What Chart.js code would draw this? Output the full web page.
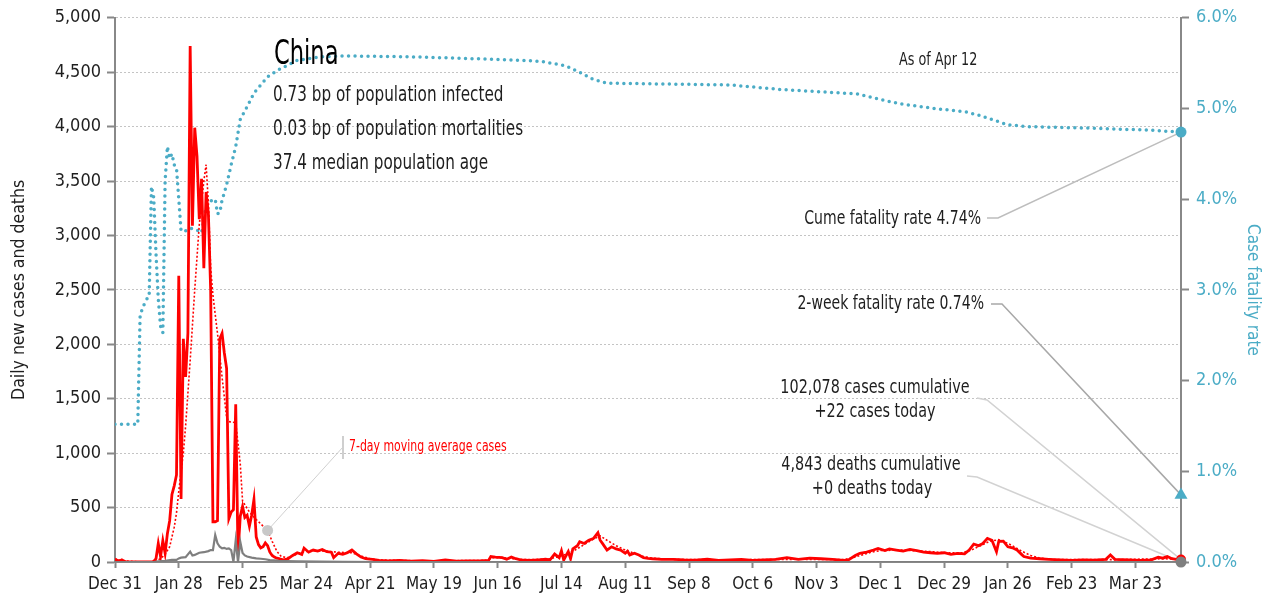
<!DOCTYPE html>
<html>
<head>
<meta charset="utf-8">
<script src="https://cdn.jsdelivr.net/npm/chart.js@4.4.0/dist/chart.umd.min.js"></script>
<style>
  html, body { margin: 0; padding: 0; background: #fff; }
  #wrap { width: 1271px; height: 604px; }
</style>
</head>
<body>
<div id="wrap"><canvas id="c" width="1271" height="604"></canvas></div>
<script>
// ------------------------------------------------------------
//  China – daily cases, deaths and case fatality rate
//  x = days since Dec 31 2019
// ------------------------------------------------------------

const X_TICKS = ['Dec 31', 'Jan 28', 'Feb 25', 'Mar 24', 'Apr 21', 'May 19', 'Jun 16', 'Jul 14',
                 'Aug 11', 'Sep 8', 'Oct 6', 'Nov 3', 'Dec 1', 'Dec 29', 'Jan 26', 'Feb 23', 'Mar 23'];
const LAST_DAY = 468;   // Apr 12 2021

// [day, new cases]
const dailyCases = [
  [0,27],[1,15],[2,10],[3,20],[4,8],[5,0],[8,0],[12,0],[16,0],[17,5],[18,30],[19,170],[20,50],
  [21,195],[22,80],[23,260],[24,380],[25,620],[26,700],[27,800],[28,2630],[29,580],[30,2050],
  [31,1700],[32,2100],[33,4740],[34,3090],[35,3990],[36,3730],[37,3150],[38,3520],[39,2700],
  [40,3400],[41,3200],[42,2500],[43,370],[44,370],[45,380],[46,2050],[47,2100],[48,1920],
  [49,1780],[50,400],[51,460],[52,480],[53,1450],[54,80],[55,420],[56,510],[57,410],[58,430],
  [59,330],[60,430],[61,575],[62,230],[63,160],[64,130],[65,140],[66,175],[67,150],[68,90],
  [69,60],[70,45],[71,35],[72,30],[73,25],[74,20],[75,25],[76,30],[78,60],[80,85],[82,70],
  [83,128],[85,90],[87,110],[89,100],[91,115],[93,95],[95,90],[96,40],[98,80],[100,70],[102,85],
  [104,110],[106,75],[108,45],[110,30],[113,25],[116,15],[120,10],[125,15],[130,8],[135,12],
  [140,5],[145,20],[150,8],[155,10],[160,10],[164,15],[165,50],[167,45],[170,40],[172,25],
  [174,45],[176,30],[178,20],[182,15],[186,20],[189,25],[191,20],[193,73],[195,40],[196,103],
  [197,18],[199,95],[200,30],[201,120],[203,150],[204,186],[206,170],[208,200],[210,215],
  [212,269],[213,200],[214,171],[216,110],[218,140],[220,120],[222,110],[224,80],[225,100],
  [226,64],[228,80],[230,64],[232,40],[234,34],[236,30],[240,25],[245,25],[250,20],[255,18],
  [260,25],[265,15],[270,20],[275,25],[280,15],[285,20],[290,25],[295,40],[300,25],[305,35],
  [310,30],[315,25],[320,15],[322,20],[325,60],[327,80],[330,90],[333,110],[335,125],[338,105],
  [340,120],[343,110],[346,100],[349,115],[352,105],[355,90],[358,85],[361,80],[364,85],
  [367,70],[370,80],[373,75],[375,110],[377,165],[379,150],[381,170],[383,217],[385,200],
  [387,95],[388,190],[390,192],[392,140],[394,130],[396,110],[398,70],[399,50],[402,35],
  [406,30],[410,25],[415,20],[420,15],[425,20],[430,18],[435,25],[437,64],[439,25],[445,20],
  [450,15],[455,20],[458,45],[460,35],[462,50],[464,30],[466,25],[468,22]
];

// [day, 7-day moving average of cases]
const avgCases = [
  [0,25],[5,8],[10,2],[16,2],[18,12],[20,30],[22,70],[24,140],[26,320],[27,450],[28,650],
  [30,1000],[31,1250],[33,1850],[35,2500],[37,3100],[39,3500],[40,3650],[41,3300],[42,2700],
  [43,2450],[45,2100],[47,1700],[49,1330],[50,1290],[53,1280],[55,900],[56,560],[59,460],
  [62,390],[65,330],[67,290],[69,190],[71,100],[73,50],[76,40],[79,65],[82,90],[86,105],
  [92,100],[98,90],[104,85],[108,55],[112,30],[116,18],[130,12],[150,12],[163,15],[166,40],
  [170,40],[175,30],[180,22],[190,25],[194,45],[198,70],[202,110],[206,160],[210,210],
  [213,240],[216,200],[220,150],[224,110],[228,80],[232,50],[236,35],[245,24],[270,20],
  [300,25],[320,22],[324,40],[328,65],[332,90],[336,105],[345,110],[355,100],[365,85],
  [372,85],[376,110],[380,150],[384,190],[388,205],[391,180],[394,150],[398,100],[402,60],
  [406,35],[412,22],[440,22],[460,30],[468,25]
];

// [day, new deaths]
const dailyDeaths = [
  [0,0],[17,0],[19,5],[22,10],[25,20],[27,20],[28,33],[29,40],[31,45],[33,95],[34,60],[35,65],
  [37,85],[39,90],[41,100],[42,110],[43,110],[44,247],[45,171],[46,140],[47,125],[48,130],
  [49,120],[50,125],[51,110],[52,3],[53,200],[54,0],[55,186],[56,82],[57,60],[58,50],[60,40],
  [62,33],[64,30],[66,25],[68,18],[70,15],[72,10],[75,8],[80,5],[90,3],[100,2],[120,0],[468,0]
];

// [day, cumulative case fatality rate %]
const fatalityRate = [
  [0,1.52],[10,1.52],[11,2.7],[12,2.8],[13,2.85],[14,2.9],[15,2.93],[16,4.14],[17,4.02],
  [18,3.4],[19,2.9],[20,2.6],[21,2.53],[22,4.2],[23,4.58],[24,4.45],[25,4.5],[26,4.38],
  [27,4.34],[28,4.0],[29,3.65],[31,3.65],[33,3.68],[36,3.66],[38,3.63],[40,3.92],[42,3.98],
  [44,4.0],[45,3.84],[46,3.85],[47,3.99],[48,4.07],[49,4.16],[51,4.38],[53,4.58],[55,4.88],
  [58,5.02],[61,5.17],[64,5.26],[67,5.35],[72,5.43],[80,5.53],[90,5.57],[100,5.58],[130,5.57],
  [169,5.54],[187,5.52],[198,5.47],[204,5.40],[210,5.32],[216,5.28],[240,5.27],[270,5.26],
  [292,5.21],[326,5.16],[336,5.10],[345,5.05],[360,5.0],[374,4.96],[380,4.92],[386,4.87],
  [392,4.82],[401,4.80],[433,4.78],[455,4.76],[468,4.74]
];

const TWO_WEEK_RATE = 0.74;
const AVG_MARK_DAY  = 67;

const INFO_LINES = ['0.73 bp of population infected', '0.03 bp of population mortalities', '37.4 median population age'];

const TEAL = '#4bacc6';
const RED  = '#ff0000';
const GREY = '#7f7f7f';
const INK  = '#1e1e1e';
const FONT = '"Liberation Sans Narrow", "DejaVu Sans Condensed", "Roboto Condensed", Roboto, sans-serif';

Chart.defaults.font.family = FONT;

const pts = arr => arr.map(([x, y]) => ({ x, y }));
const last = arr => arr[arr.length - 1][1];

// ---------------------------------------------------------------
// Annotations
// ---------------------------------------------------------------
function poly(ctx, color, width, p) {
  ctx.strokeStyle = color;
  ctx.lineWidth = width;
  ctx.beginPath();
  ctx.moveTo(p[0][0], p[0][1]);
  p.slice(1).forEach(q => ctx.lineTo(q[0], q[1]));
  ctx.stroke();
}

// k squeezes the text horizontally (the original uses a narrow face)
function text(ctx, s, x, y, size, color, align, k) {
  ctx.font = size + 'px ' + FONT;
  ctx.fillStyle = color;
  ctx.textAlign = align || 'left';
  ctx.textBaseline = 'middle';
  ctx.fillText(s, x, y, ctx.measureText(s).width * (k || 1));
}

const notes = {
  id: 'notes',
  beforeDatasetsDraw(chart) {
    const { ctx, scales: { x, y, y2 } } = chart;
    const xe = x.getPixelForValue(LAST_DAY);
    ctx.save();
    poly(ctx, '#bdbdbd', 1.5, [[987, 218], [998, 218], [xe, y2.getPixelForValue(last(fatalityRate))]]);
    poly(ctx, '#a8a8a8', 1.5, [[991, 304], [1002, 304], [xe, y2.getPixelForValue(TWO_WEEK_RATE)]]);
    poly(ctx, '#d2d2d2', 1.5, [[977, 398], [987, 400], [xe, y.getPixelForValue(last(dailyCases))]]);
    poly(ctx, '#d2d2d2', 1.5, [[967, 476], [977, 477], [xe, y.getPixelForValue(last(dailyDeaths))]]);
    ctx.restore();
  },
  afterDatasetsDraw(chart) {
    const { ctx, scales: { x, y } } = chart;
    ctx.save();

    // 7-day average call-out
    const mk = avgCases.find(p => p[0] === AVG_MARK_DAY);
    const mx = x.getPixelForValue(mk[0]), my = y.getPixelForValue(mk[1]);
    poly(ctx, '#d0d0d0', 1, [[343, 447], [mx, my]]);
    poly(ctx, '#cfcfcf', 2, [[343, 436], [343, 459]]);
    ctx.fillStyle = '#c8c8c8';
    ctx.beginPath();
    ctx.arc(mx, my, 5.5, 0, Math.PI * 2);
    ctx.fill();
    text(ctx, '7-day moving average cases', 349, 447, 15, RED, 'left', 0.81);

    // title block
    text(ctx, 'China', 274, 55, 33, '#000', 'left', 0.76);
    INFO_LINES.forEach((s, i) => text(ctx, s, 273, 95 + i * 34, 22, INK, 'left', 0.77));
    text(ctx, 'As of Apr 12', 899, 60, 18, INK, 'left', 0.79);

    // right-hand labels
    text(ctx, 'Cume fatality rate 4.74%', 981, 219, 20, INK, 'right', 0.78);
    text(ctx, '2-week fatality rate 0.74%', 984, 304, 20, INK, 'right', 0.78);
    text(ctx, '102,078 cases cumulative', 875, 388, 20, INK, 'center', 0.8);
    text(ctx, '+22 cases today', 875, 412, 20, INK, 'center', 0.8);
    text(ctx, '4,843 deaths cumulative', 871, 465, 20, INK, 'center', 0.8);
    text(ctx, '+0 deaths today', 872, 489, 20, INK, 'center', 0.8);
    ctx.restore();
  }
};

// ---------------------------------------------------------------
// Chart
// ---------------------------------------------------------------
const endMark = (data, axis, color, style, r, order) => ({
  data, yAxisID: axis, showLine: false, clip: false, order,
  pointStyle: style, pointRadius: r, pointBackgroundColor: color, pointBorderWidth: 0
});

new Chart(document.getElementById('c'), {
  type: 'line',
  data: {
    datasets: [
      { label: 'Case fatality rate', data: pts(fatalityRate), yAxisID: 'y2', borderColor: TEAL,
        borderWidth: 3.5, borderDash: [0, 6.5], borderCapStyle: 'round', pointRadius: 0, order: 6 },
      { label: 'Daily cases', data: pts(dailyCases), yAxisID: 'y', borderColor: RED,
        borderWidth: 2.8, pointRadius: 0, order: 4 },
      { label: '7-day average', data: pts(avgCases), yAxisID: 'y', borderColor: RED,
        borderWidth: 1.6, borderDash: [2, 2], pointRadius: 0, order: 3 },
      { label: 'Daily deaths', data: pts(dailyDeaths), yAxisID: 'y', borderColor: GREY,
        borderWidth: 2.2, pointRadius: 0, order: 2 },
      endMark([{ x: LAST_DAY, y: last(fatalityRate) }], 'y2', TEAL, 'circle', 5.5, 1),
      endMark([{ x: LAST_DAY, y: TWO_WEEK_RATE }], 'y2', TEAL, 'triangle', 7.5, 1),
      endMark([{ x: LAST_DAY, y: last(dailyCases) }], 'y', RED, 'circle', 5, 1),
      endMark([{ x: LAST_DAY, y: last(dailyDeaths) }], 'y', GREY, 'circle', 5.5, 0)
    ]
  },
  options: {
    responsive: false,
    devicePixelRatio: 1,
    animation: false,
    layout: { padding: { top: 16, left: 0, right: 0, bottom: 0 } },
    elements: { line: { tension: 0 } },
    plugins: { legend: { display: false }, tooltip: { enabled: false } },
    scales: {
      x: {
        type: 'linear', min: 0, max: LAST_DAY,
        afterFit: s => { s.height = 42; },
        ticks: { stepSize: 28, includeBounds: false, autoSkip: false, maxRotation: 0,
                 color: INK, font: { size: 17 }, padding: 6,
                 callback: v => X_TICKS[v / 28] },
        grid: { drawOnChartArea: false, tickLength: 6, tickColor: '#888', tickWidth: 2 },
        border: { color: '#888', width: 2 }
      },
      y: {
        position: 'left', min: 0, max: 5000,
        afterFit: s => { s.width = 115; },
        ticks: { stepSize: 500, color: INK, font: { size: 18 }, padding: 6,
                 callback: v => v.toLocaleString('en-US') },
        grid: { color: '#c4c4c4', lineWidth: 1, tickLength: 8, tickColor: '#888', tickWidth: 2,
                tickBorderDash: [4, 0] },
        border: { color: '#888', width: 2, dash: [2, 2] },
        title: { display: true, text: 'Daily new cases and deaths', color: INK,
                 font: { size: 17.5 }, padding: { top: 9, bottom: 0 } }
      },
      y2: {
        position: 'right', min: 0, max: 6,
        afterFit: s => { s.width = 90; },
        ticks: { stepSize: 1, color: TEAL, font: { size: 18 }, padding: 7,
                 callback: v => v.toFixed(1) + '%' },
        grid: { drawOnChartArea: false, tickLength: 8, tickColor: '#888', tickWidth: 2 },
        border: { color: '#888', width: 2 },
        title: { display: true, text: 'Case fatality rate', color: TEAL,
                 font: { size: 17 }, padding: { top: 8, bottom: 0 } }
      }
    }
  },
  plugins: [notes]
});
</script>
</body>
</html>
